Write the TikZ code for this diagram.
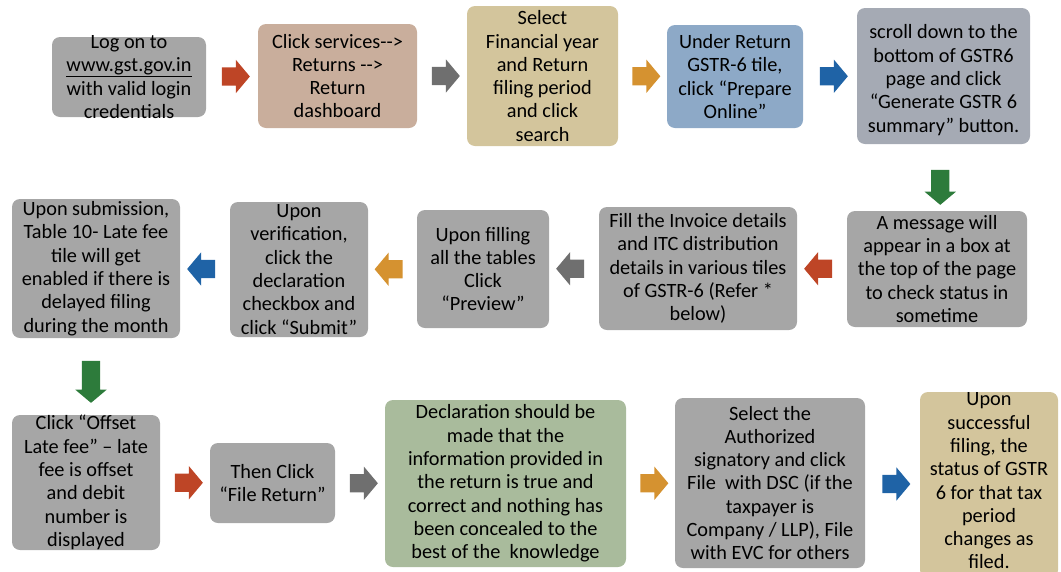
\documentclass[tikz,border=0pt]{standalone}
\usepackage{fontspec}
\setmainfont{Carlito}[Ligatures=TeXOff]
\usetikzlibrary{shapes.arrows,calc}
\definecolor{colgray}{HTML}{A6A6A6}
\definecolor{coltan}{HTML}{C9AE9C}
\definecolor{colkhaki}{HTML}{D3C59C}
\definecolor{colblue}{HTML}{8DA9C7}
\definecolor{colslate}{HTML}{A5AAB4}
\definecolor{colsage}{HTML}{A9BB9C}
\definecolor{arrred}{HTML}{BE4526}
\definecolor{arrgray}{HTML}{6F6F6F}
\definecolor{arrorange}{HTML}{D59230}
\definecolor{arrblue}{HTML}{1F63A6}
\definecolor{arrgreen}{HTML}{2D7B3B}
\tikzstyle{box}=[rectangle, rounded corners=8pt, inner sep=0pt]
\tikzstyle{txt}=[align=center, inner sep=0pt]
\tikzstyle{blk}=[single arrow, inner sep=0pt, text width=0pt, text height=9pt, text depth=9pt, minimum height=28pt, minimum width=33pt, single arrow head extend=7.5pt, single arrow tip angle=100]
\tikzstyle{blkleft}=[blk, rotate=180]
\tikzstyle{blkdown}=[blk, rotate=-90, minimum width=31pt, single arrow head extend=6.5pt]

\begin{document}
\begin{tikzpicture}[x=1pt,y=-1pt,font=\fontsize{20.3}{23.3}\selectfont]
		    \useasboundingbox (0,0) rectangle (1061,571);
		    \node [box, fill=colgray, minimum width=154pt, minimum height=80pt] (login) at (129,77) {};
		    \node [box, fill=coltan, minimum width=159pt, minimum height=104pt] (services) at (337.5,76) {};
		    \node [box, fill=colkhaki, minimum width=151pt, minimum height=140pt] (select) at (542.5,76) {};
		    \node [box, fill=colblue, minimum width=136pt, minimum height=103pt] (prepare) at (735,76.5) {};
		    \node [box, fill=colslate, minimum width=173pt, minimum height=136pt] (scroll) at (943.5,76) {};
		    \node [box, fill=colgray, minimum width=180pt, minimum height=116pt] (message) at (937,269) {};
		    \node [box, fill=colgray, minimum width=198pt, minimum height=123pt] (invoice) at (698,268.5) {};
		    \node [box, fill=colgray, minimum width=132pt, minimum height=118pt] (preview) at (483,269) {};
		    \node [box, fill=colgray, minimum width=138pt, minimum height=135pt] (verify) at (299,269.5) {};
		    \node [box, fill=colgray, minimum width=168pt, minimum height=139pt] (submit) at (96,268.5) {};
		    \node [box, fill=colgray, minimum width=148pt, minimum height=135pt] (offset) at (86,482.5) {};
		    \node [box, fill=colgray, minimum width=125pt, minimum height=80pt] (fileret) at (272.5,483) {};
		    \node [box, fill=colsage, minimum width=241pt, minimum height=167pt] (declare) at (505.5,483.5) {};
		    \node [box, fill=colgray, minimum width=190pt, minimum height=170pt] (sign) at (770,483) {};
		    \node [box, fill=colkhaki, minimum width=138pt, minimum height=186pt] (filed) at (989,485) {};
		    \node [txt] (logintxt) at (login) {Log on to\\\underline{www.gst.gov.in}\\with valid login\\credentials};
		    \node [txt] (servicestxt) at (services) {Click services-->\\Returns -->\\Return\\dashboard};
		    \node [txt] (selecttxt) at (select) {Select\\Financial year\\and Return\\filing period\\and click\\search};
		    \node [txt] (preparetxt) at (prepare) {Under Return\\GSTR-6 tile,\\click “Prepare\\Online”};
		    \node [txt] (scrolltxt) [yshift=-4pt] at (scroll) {scroll down to the\\bottom of GSTR6\\page and click\\“Generate GSTR 6\\summary” button.};
		    \node [txt] (messagetxt) at (message) {A message will\\appear in a box at\\the top of the page\\to check status in\\sometime};
		    \node [txt] (invoicetxt) at (invoice) {Fill the Invoice details\\and ITC distribution\\details in various tiles\\of GSTR-6 (Refer *\\below)};
		    \node [txt] (previewtxt) at (preview) {Upon filling\\all the tables\\Click\\“Preview”};
		    \node [txt] (verifytxt) at (verify) {Upon\\verification,\\click the\\declaration\\checkbox and\\click “Submit”};
		    \node [txt] (submittxt) at (submit) {Upon submission,\\Table 10- Late fee\\tile will get\\enabled if there is\\delayed filing\\during the month};
		    \node [txt] (offsettxt) at (offset) {Click “Offset\\Late fee” – late\\fee is offset\\and debit\\number is\\displayed};
		    \node [txt] (filerettxt) at (fileret) {Then Click\\“File Return”};
		    \node [txt] (declaretxt) at (declare) {Declaration should be\\made that the\\information provided in\\the return is true and\\correct and nothing has\\been concealed to the\\best of the~ knowledge};
		    \node [txt] (signtxt) at (sign) {Select the\\Authorized\\signatory and click\\File~ with DSC (if the\\taxpayer is\\Company / LLP), File\\with EVC for others};
		    \node [txt] (filedtxt) [yshift=4pt] at (filed) {Upon\\successful\\filing, the\\status of GSTR\\6 for that tax\\period\\changes as\\filed.};
		    \node [blk, fill=arrred] (a1) at ($(login.east)!.5!(services.west)$) {};
		    \node [blk, fill=arrgray] (a2) at ($(services.east)!.5!(select.west)$) {};
		    \node [blk, fill=arrorange] (a3) at ($(select.east)!.5!(prepare.west)$) {};
		    \node [blk, fill=arrblue] (a4) at ($(prepare.east)!.5!(scroll.west)$) {};
		    \node [blkdown, fill=arrgreen, minimum height=35pt] (a5) [xshift=6pt] at ($(scroll.south)!.5!(message.north)$) {};
		    \node [blkleft, fill=arrred] (a6) at ($(message.west)!.5!(invoice.east)$) {};
		    \node [blkleft, fill=arrgray] (a7) at ($(invoice.west)!.5!(preview.east)$) {};
		    \node [blkleft, fill=arrorange] (a8) at ($(preview.west)!.5!(verify.east)$) {};
		    \node [blkleft, fill=arrblue] (a9) at ($(verify.west)!.5!(submit.east)$) {};
		    \node [blkdown, fill=arrgreen, minimum height=42pt] (a10) [xshift=1.5pt] at ($(submit.south)!.5!(offset.north)$) {};
		    \node [blk, fill=arrred] (a11) at ($(offset.east)!.5!(fileret.west)$) {};
		    \node [blk, fill=arrgray] (a12) at ($(fileret.east)!.5!(declare.west)$) {};
		    \node [blk, fill=arrorange] (a13) at ($(declare.east)!.5!(sign.west)$) {};
		    \node [blk, fill=arrblue] (a14) at ($(sign.east)!.5!(filed.west)$) {};
		\end{tikzpicture}
\end{document}
